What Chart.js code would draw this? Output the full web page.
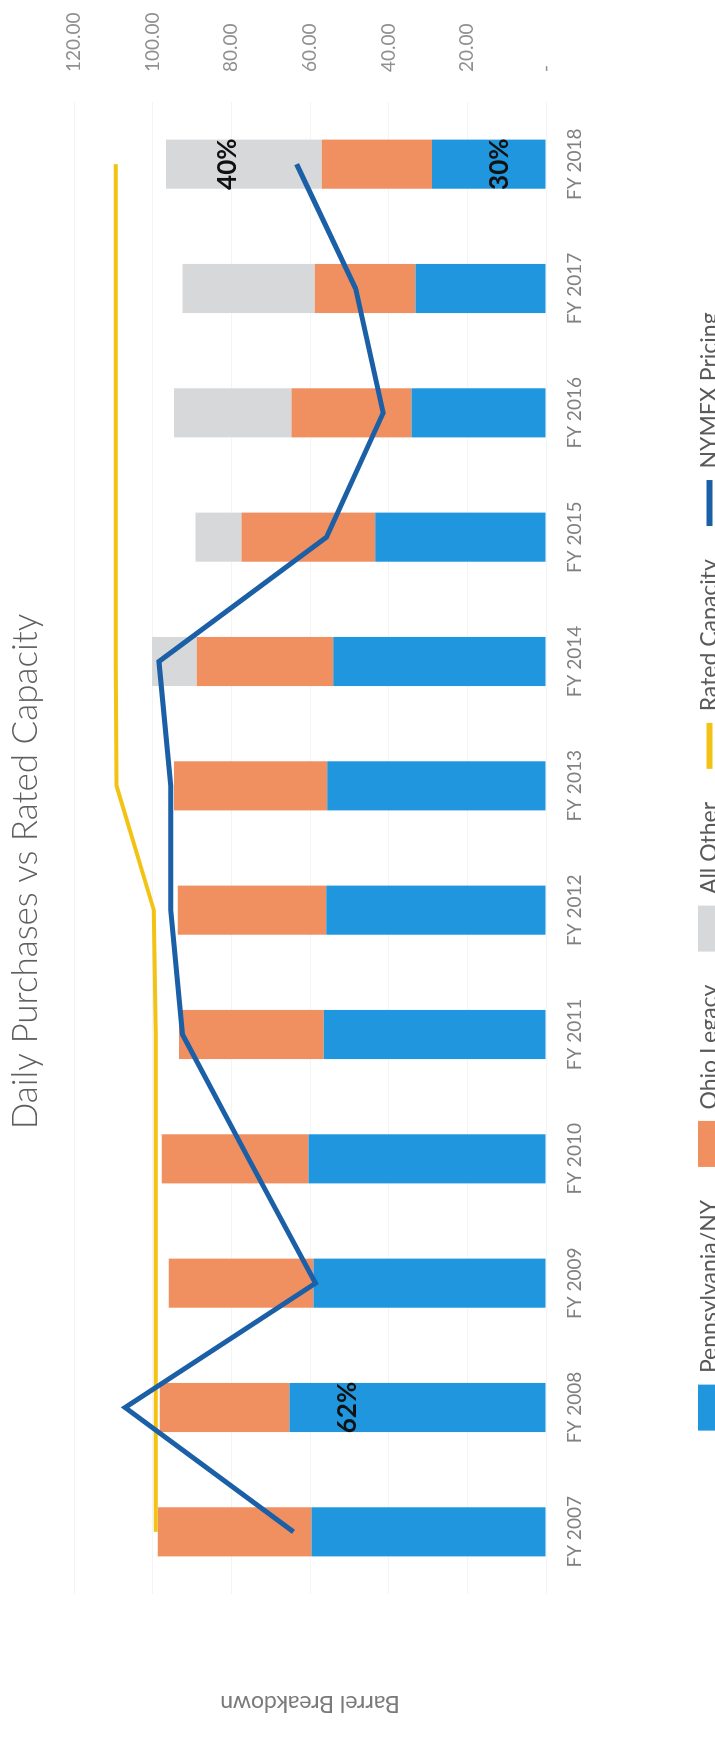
<!DOCTYPE html>
<html>
<head>
<meta charset="utf-8">
<title>Daily Purchases vs Rated Capacity</title>
<script src="https://cdn.jsdelivr.net/npm/chart.js@4.4.1/dist/chart.umd.min.js"></script>
<style>
  html, body { margin: 0; padding: 0; background: #fff; overflow: hidden; width: 715px; height: 1743px; }
  /* the chart is drawn landscape and turned a quarter to the left, like the scan */
  #wrap { position: absolute; left: 0; top: 0; width: 1743px; height: 731px;
          transform-origin: 0 0; transform: translateY(1743px) rotate(-90deg); }
</style>
</head>
<body>
<div id="wrap"><canvas id="graphCanvas"></canvas></div>
<script>
const years = ['FY 2007', 'FY 2008', 'FY 2009', 'FY 2010', 'FY 2011', 'FY 2012',
               'FY 2013', 'FY 2014', 'FY 2015', 'FY 2016', 'FY 2017', 'FY 2018'];
const pennsylvaniaNY = [59.6, 65.2, 59.1, 60.4, 56.5, 55.9, 55.6, 54.1, 43.4, 34.2, 33.2, 29.0];
const ohioLegacy     = [39.1, 33.0, 36.8, 37.3, 36.8, 37.7, 39.0, 34.7, 34.0, 30.5, 25.6, 28.0];
const allOther       = [0, 0, 0, 0, 0, 0, 0, 11.4, 11.7, 29.9, 33.6, 39.6];
const ratedCapacity  = [99.2, 99.2, 99.2, 99.2, 99.2, 99.7, 109.2, 109.4, 109.4, 109.4, 109.4, 109.4];
const nymexPricing   = [64.2, 107.0, 58.6, 75.6, 92.4, 95.4, 95.4, 98.4, 55.8, 41.4, 48.4, 63.4];

// percentage call-outs written on the bars
const shareText  = ['62%', '40%', '30%'];
const shareYear  = ['FY 2008', 'FY 2018', 'FY 2018'];
const shareLevel = [50.5, 81.0, 11.7];

const FONT = 'Lato, "Liberation Sans Narrow", sans-serif';
Chart.defaults.font.family = FONT;

const shareLabels = {
    id: 'shareLabels',
    afterDatasetsDraw(chart){
        const ctx = chart.ctx;
        const xs = chart.scales.x, ys = chart.scales.y;
        ctx.save();
        ctx.font = 'bold 26px ' + FONT;
        ctx.fillStyle = '#111';
        ctx.textAlign = 'center';
        ctx.textBaseline = 'middle';
        for(let i = 0; i < shareText.length; i++){
            ctx.fillText(shareText[i], xs.getPixelForValue(years.indexOf(shareYear[i])), ys.getPixelForValue(shareLevel[i]));
        }
        ctx.restore();
    }
};

const chart_data = {
    labels: years,
    datasets: [
        { type: 'bar', label: 'Pennsylvania/NY', data: pennsylvaniaNY, backgroundColor: '#1F96DE', order: 1, stack: 'barrels' },
        { type: 'bar', label: 'Ohio Legacy', data: ohioLegacy, backgroundColor: '#F08F60', order: 1, stack: 'barrels' },
        { type: 'bar', label: 'All Other', data: allOther, backgroundColor: '#D6D8DA', order: 1, stack: 'barrels' },
        { type: 'line', label: 'Rated Capacity', data: ratedCapacity, borderColor: '#F2C314', backgroundColor: '#F2C314',
          borderWidth: 4, pointRadius: 0, tension: 0, order: 0, stack: 'rated' },
        { type: 'line', label: 'NYMEX Pricing', data: nymexPricing, borderColor: '#1B60A7', backgroundColor: '#1B60A7',
          borderWidth: 5, pointRadius: 0, tension: 0, order: -1, stack: 'nymex' }
    ]
};

const config = {
    data: chart_data,
    plugins: [shareLabels],
    options: {
        responsive: true,
        maintainAspectRatio: false,
        animation: false,
        layout: { padding: 0 },
        datasets: { bar: { barPercentage: 0.395, categoryPercentage: 1 } },
        plugins: {
            tooltip: { enabled: false },
            title: {
                display: true,
                text: 'Daily Purchases vs Rated Capacity',
                color: '#5f5f5f',
                font: { size: 35, weight: '300' },
                padding: { top: 5, bottom: 27 }
            },
            legend: {
                position: 'bottom',
                labels: {
                    color: '#595959',
                    font: { size: 23 },
                    usePointStyle: true,
                    pointStyleWidth: 46,
                    boxHeight: 23,
                    padding: 33,
                    sort: (a, b) => a.datasetIndex - b.datasetIndex,
                    generateLabels(chart){
                        const items = Chart.defaults.plugins.legend.labels.generateLabels(chart);
                        items.forEach(it => {
                            const ds = chart.data.datasets[it.datasetIndex];
                            if(ds.type === 'line'){
                                it.pointStyle = 'line';
                                it.strokeStyle = ds.borderColor;
                                it.lineWidth = 6;
                            } else {
                                it.pointStyle = 'rect';
                                it.lineWidth = 0;
                            }
                        });
                        return items;
                    }
                }
            }
        },
        scales: {
            x: {
                stacked: true,
                grid: { display: false, drawTicks: false },
                border: { display: false },
                ticks: { color: '#808080', font: { size: 19 }, padding: 17, maxRotation: 0, minRotation: 0 },
                afterFit(s){ s.height = 119; }
            },
            y: {
                position: 'right',
                stacked: true,
                min: 0,
                max: 120,
                grid: { color: '#f4f4f4', drawTicks: false },
                border: { display: false },
                ticks: {
                    stepSize: 20,
                    color: '#8f8f8f',
                    font: { size: 19 },
                    padding: 30,
                    callback: v => v === 0 ? '-' : v.toFixed(2)
                },
                afterFit(s){ s.width = 102; }
            },
            yL: {
                position: 'left',
                min: 0,
                max: 120,
                grid: { display: false, drawTicks: false },
                border: { display: false },
                ticks: { display: false },
                title: { display: true, text: 'Barrel Breakdown', color: '#7a7a7a', font: { size: 23 }, padding: { top: 26, bottom: 0 } },
                afterFit(s){ s.width = 149; }
            }
        }
    }
};

let chart = null;

function startChart(){
    const canvas = document.getElementById('graphCanvas');
    chart = new Chart(canvas.getContext('2d'), config);
}

startChart();
</script>
</body>
</html>
